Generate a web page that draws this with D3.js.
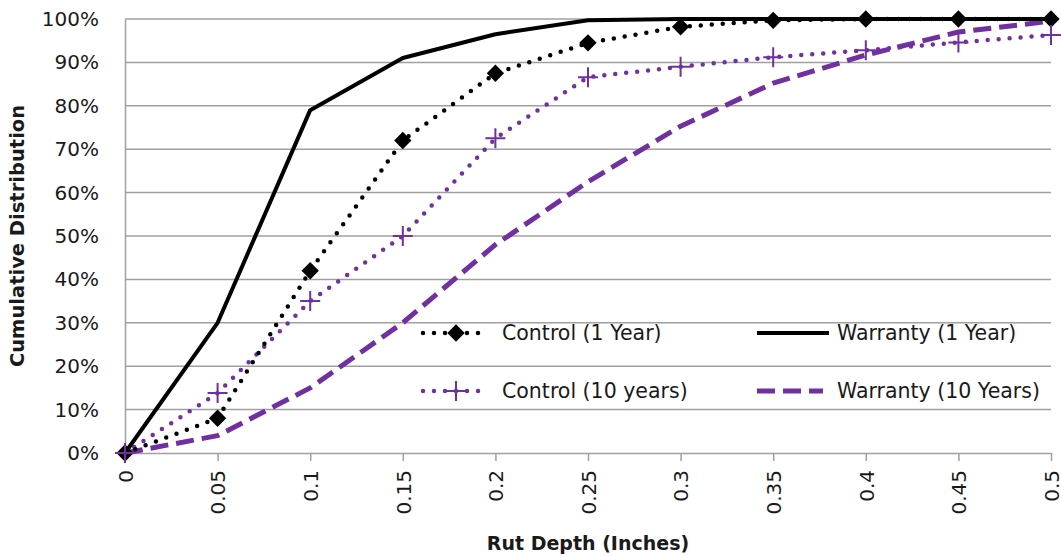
<!DOCTYPE html>
<html>
<head>
<meta charset="utf-8">
<script src="https://cdn.jsdelivr.net/npm/d3@7"></script>
<style>
  html, body { margin: 0; padding: 0; background: #fff; }
  svg { display: block; }
  text { font-family: "DejaVu Sans", Verdana, sans-serif; fill: #1a1a1a; }
</style>
</head>
<body>
<svg id="chart" width="1061" height="556"></svg>
<script>
// ---- Data ----
const rutDepth = [0, 0.05, 0.1, 0.15, 0.2, 0.25, 0.3, 0.35, 0.4, 0.45, 0.5];
const xTickLabels = ["0", "0.05", "0.1", "0.15", "0.2", "0.25", "0.3", "0.35", "0.4", "0.45", "0.5"];
const yTicks = [0, 0.1, 0.2, 0.3, 0.4, 0.5, 0.6, 0.7, 0.8, 0.9, 1.0];
const control1Year   = [0, 8, 42, 72, 87.5, 94.5, 98.2, 99.7, 100, 100, 100];
const warranty1Year  = [0, 30, 79, 91, 96.5, 99.7, 100, 100, 100, 100, 100];
const control10Year  = [0, 13.8, 35, 50, 72.5, 86.6, 89, 91.2, 92.8, 94.6, 96.3];
const warranty10Year = [0, 4, 15, 30, 48, 62.5, 75.3, 85.2, 91.7, 97, 99.5];
const seriesNames = ["Control (1 Year)", "Warranty (1 Year)", "Control (10 years)", "Warranty (10 Years)"];

const purple = "#7030A0";
const svg = d3.select("#chart");

const x = d3.scaleLinear().domain([0, 0.5]).range([125, 1051]);
const y = d3.scaleLinear().domain([0, 1]).range([453, 19]);

// gridlines
svg.append("g").selectAll("line").data(yTicks.slice(1)).join("line")
  .attr("x1", x(0)).attr("x2", x(0.5))
  .attr("y1", d => y(d)).attr("y2", d => y(d))
  .attr("stroke", "#a0a0a0").attr("stroke-width", 1.5);

// y axis
const yAxis = svg.append("g").attr("transform", `translate(${x(0)},0)`)
  .call(d3.axisLeft(y).tickValues(yTicks).tickFormat(d3.format(".0%")).tickSize(0).tickPadding(26));
yAxis.select(".domain").attr("stroke", "#a0a0a0").attr("stroke-width", 1.5);
yAxis.selectAll("text").style("font-size", "20px").style("font-family", "DejaVu Sans").attr("fill", "#1a1a1a");

// x axis
const xAxis = svg.append("g").attr("transform", `translate(0,${y(0)})`)
  .call(d3.axisBottom(x).tickValues(rutDepth).tickFormat((d, i) => xTickLabels[i]).tickSizeInner(8).tickSizeOuter(0));
xAxis.select(".domain").attr("stroke", "#a0a0a0").attr("stroke-width", 1.5);
xAxis.selectAll(".tick line").attr("stroke", "#a0a0a0").attr("stroke-width", 1.5);
xAxis.selectAll("text")
  .style("font-size", "20px").style("font-family", "DejaVu Sans").attr("fill", "#1a1a1a")
  .attr("transform", "rotate(-90)")
  .attr("x", -17).attr("y", 0).attr("dy", "0.36em")
  .style("text-anchor", "end");

// axis titles
svg.append("text")
  .attr("transform", `translate(24,${(y(0) + y(1)) / 2}) rotate(-90)`)
  .attr("text-anchor", "middle")
  .style("font-size", "19.5px").style("font-weight", "bold")
  .text("Cumulative Distribution");
svg.append("text")
  .attr("x", (x(0) + x(0.5)) / 2).attr("y", 550)
  .attr("text-anchor", "middle")
  .style("font-size", "19px").style("font-weight", "bold")
  .text("Rut Depth (Inches)");

const line = d3.line().x((d, i) => x(rutDepth[i])).y(d => y(d / 100));

// series styles
const styles = [
  { data: control1Year, color: "#000", width: 4.5, dash: "0,11", cap: "round", marker: "diamond" },
  { data: warranty1Year, color: "#000", width: 4, dash: null, cap: "butt", marker: null },
  { data: control10Year, color: purple, width: 4.5, dash: "0,11", cap: "round", marker: "plus" },
  { data: warranty10Year, color: purple, width: 5, dash: "18,8", cap: "butt", marker: null }
];

// draw lines (order: warranty10, control10, control1, warranty1)
[3, 2, 0, 1].forEach(k => {
  const s = styles[k];
  svg.append("path").datum(s.data)
    .attr("d", line)
    .attr("fill", "none")
    .attr("stroke", s.color)
    .attr("stroke-width", s.width)
    .attr("stroke-linecap", s.cap)
    .attr("stroke-linejoin", "round")
    .attr("stroke-dasharray", s.dash);
});

function drawMarker(g, kind, cx, cy, color) {
  if (kind === "diamond") {
    g.append("path")
      .attr("d", d3.symbol().type(d3.symbolSquare).size(150)())
      .attr("transform", `translate(${cx},${cy}) rotate(45)`)
      .attr("fill", color);
  } else if (kind === "plus") {
    g.append("path")
      .attr("d", `M${cx - 10},${cy}H${cx + 10}M${cx},${cy - 10}V${cy + 10}`)
      .attr("stroke", color).attr("stroke-width", 2).attr("fill", "none");
  }
}

// markers
[0, 2].forEach(k => {
  const s = styles[k];
  const g = svg.append("g");
  s.data.forEach((v, i) => drawMarker(g, s.marker, x(rutDepth[i]), y(v / 100), s.color));
});

// legend
const legendItems = [
  { k: 0, lx: 423, tx: 502, ly: 333 },
  { k: 1, lx: 757, tx: 837, ly: 333 },
  { k: 2, lx: 423, tx: 502, ly: 391 },
  { k: 3, lx: 757, tx: 837, ly: 391 }
];
const lg = svg.append("g");
legendItems.forEach(it => {
  const s = styles[it.k];
  const len = it.k % 2 === 0 ? 66 : 72;
  let x1 = it.lx, x2 = it.lx + len;
  if (it.k === 3) { x2 = it.lx + 66; }
  lg.append("line")
    .attr("x1", x1).attr("x2", x2).attr("y1", it.ly).attr("y2", it.ly)
    .attr("stroke", s.color).attr("stroke-width", s.width)
    .attr("stroke-linecap", s.cap)
    .attr("stroke-dasharray", s.dash);
  if (s.marker) drawMarker(lg, s.marker, it.lx + 33, it.ly, s.color);
  lg.append("text")
    .attr("x", it.tx).attr("y", it.ly).attr("dy", "0.36em")
    .style("font-size", "20.5px")
    .text(seriesNames[it.k]);
});
</script>
</body>
</html>
